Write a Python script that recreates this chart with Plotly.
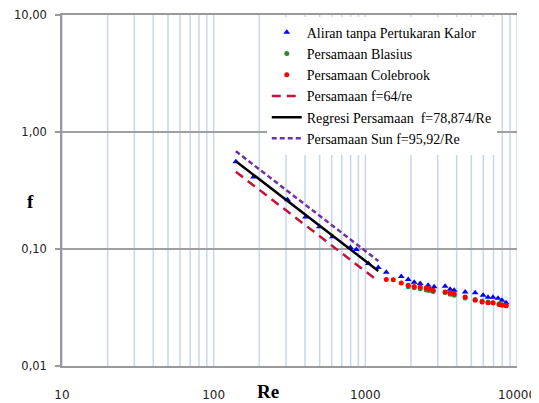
import plotly.graph_objects as go

# ---- data ----
re_exp = [140, 183, 307, 403, 498, 607, 797, 873, 1047, 1218,
          1374, 1726, 1918, 2100, 2301, 2595, 2843, 3359, 3623, 3853,
          4552, 5300, 5974, 6442, 6950, 7500, 7963, 8472]
f_exp = [0.556, 0.412, 0.263, 0.188, 0.155, 0.127, 0.103, 0.099, 0.075, 0.0695,
         0.0634, 0.0583, 0.0550, 0.0519, 0.0508, 0.0489, 0.0475, 0.0480, 0.0452, 0.0443,
         0.0430, 0.0422, 0.0402, 0.0387, 0.0387, 0.0379, 0.0365, 0.0347]

re_blasius = [1918, 2100, 2301, 2520, 2637, 2800, 3359, 3623, 3853, 4552,
              5300, 5888, 6442, 6950, 7620, 7963, 8472]
f_blasius = [0.0475, 0.0467, 0.0458, 0.0447, 0.0442, 0.0434, 0.0424, 0.0411, 0.0402, 0.0382,
             0.0370, 0.0360, 0.0353, 0.0346, 0.0338, 0.0334, 0.0329]

re_colebrook = [1374, 1528, 1726, 1918, 2100, 2301, 2520, 2637, 2800, 3359,
                3623, 3853, 4552, 5300, 5888, 6442, 6950, 7620, 7963, 8472]
f_colebrook = [0.0550, 0.0546, 0.0512, 0.0489, 0.0479, 0.0474, 0.0465, 0.0455, 0.0443, 0.0428,
               0.0420, 0.0414, 0.0389, 0.0365, 0.0352, 0.0348, 0.0347, 0.0336, 0.0330, 0.0328]

re_line = [140, 183, 307, 403, 498, 607, 797, 873, 1047, 1218]
f_64 = [0.457, 0.350, 0.208, 0.159, 0.129, 0.105, 0.080, 0.073, 0.061, 0.053]
f_reg = [0.563, 0.431, 0.257, 0.196, 0.158, 0.130, 0.099, 0.090, 0.075, 0.065]
f_sun = [0.685, 0.524, 0.312, 0.238, 0.193, 0.158, 0.120, 0.110, 0.092, 0.079]

x_tickvals = [10, 100, 1000, 10000]
x_ticktext = ["10", "100", "1000", "10000"]
y_tickvals = [0.01, 0.1, 1, 10]
y_ticktext = ["0,01", "0,10", "1,00", "10,00"]

names = ["Aliran tanpa Pertukaran Kalor", "Persamaan Blasius", "Persamaan Colebrook",
         "Persamaan f=64/re", "Regresi Persamaan  f=78,874/Re", "Persamaan Sun f=95,92/Re"]

fig = go.Figure()
fig.add_trace(go.Scatter(x=re_exp, y=f_exp, mode="markers", name=names[0],
                         marker=dict(symbol="triangle-up", size=6, color="#0000FF")))
fig.add_trace(go.Scatter(x=re_blasius, y=f_blasius, mode="markers", name=names[1],
                         marker=dict(symbol="circle", size=5, color="#2E8B2E")))
fig.add_trace(go.Scatter(x=re_colebrook, y=f_colebrook, mode="markers", name=names[2],
                         marker=dict(symbol="circle", size=5, color="#FF0000")))
fig.add_trace(go.Scatter(x=re_line, y=f_64, mode="lines", name=names[3],
                         line=dict(color="#C0143C", width=2.5, dash="9px,6px")))
fig.add_trace(go.Scatter(x=re_line, y=f_reg, mode="lines", name=names[4],
                         line=dict(color="#000000", width=2.5)))
fig.add_trace(go.Scatter(x=re_line, y=f_sun, mode="lines", name=names[5],
                         line=dict(color="#7030A0", width=2.5, dash="5px,3px")))

x_grid = [v * m for v in [10, 100, 1000] for m in range(1, 10)] + [10000]

# the page body adds an 8px offset, so margins are compensated for it
fig.update_layout(
    width=539, height=403,
    margin=dict(l=54, r=30, t=7, b=45, autoexpand=False),
    paper_bgcolor="white", plot_bgcolor="white",
    showlegend=True,
    legend=dict(x=0.45, y=0.995, xanchor="left", yanchor="top",
                bgcolor="white", borderwidth=0,
                font=dict(family="Liberation Serif", size=14, color="#000000"),
                tracegroupgap=0),
    xaxis=dict(type="log", range=[1, 4], tickvals=x_tickvals, ticktext=x_ticktext,
               showgrid=False, zeroline=False, showline=True, linecolor="#999999",
               linewidth=1.5, mirror=True, ticks="", ticklabelstandoff=17,
               automargin=False, ticklabeloverflow="allow",
               tickfont=dict(family="DejaVu Sans", size=12, color="#222222")),
    yaxis=dict(type="log", range=[-2, 1], tickvals=y_tickvals, ticktext=y_ticktext,
               showgrid=True, gridcolor="#A0A0A0", gridwidth=1.5, zeroline=False,
               showline=True, linecolor="#999999", linewidth=1.5,
               ticks="outside", ticklen=5, tickcolor="#999999", tickwidth=1.5,
               ticklabelstandoff=6, automargin=False, ticklabeloverflow="allow",
               tickfont=dict(family="DejaVu Sans", size=11.5, color="#222222")),
    annotations=[
        dict(text="<b>Re</b>", x=0.453, y=-0.074, xref="paper", yref="paper",
             xanchor="center", yanchor="middle", showarrow=False,
             font=dict(family="Liberation Serif", size=19, color="#000000")),
        dict(text="<b>f</b>", x=-0.07, y=0.47, xref="paper", yref="paper",
             xanchor="center", yanchor="middle", showarrow=False,
             font=dict(family="Liberation Serif", size=19, color="#000000")),
    ],
)

# light blue vertical grid lines at every log step (drawn below traces)
for gx in x_grid:
    fig.add_vline(x=gx, line=dict(color="#C6D6EE", width=1.5), layer="below")

fig.write_html("out.html")
